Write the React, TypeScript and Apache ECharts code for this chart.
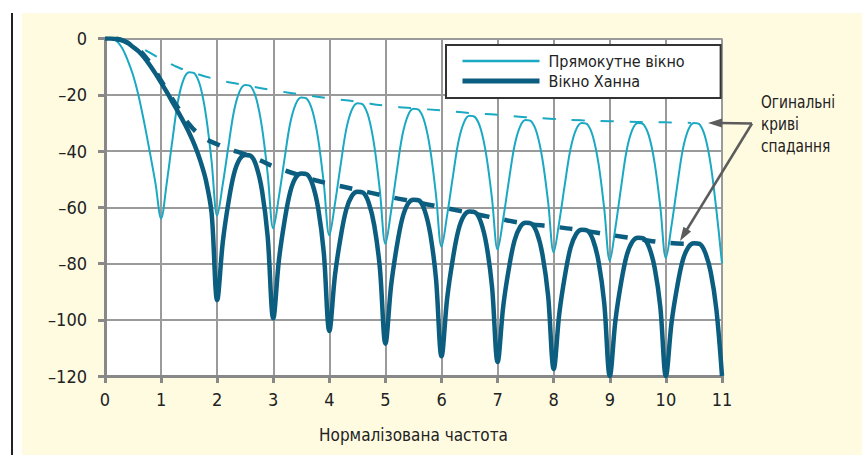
import React, { useEffect, useRef } from "react";
import * as echarts from "echarts";

// Normalised frequency sample points
const freq = [
  0, 0.1, 0.2, 0.3, 0.4, 0.5, 0.6, 0.7, 0.8, 0.9,
  1, 1.1, 1.2, 1.3, 1.4, 1.5, 1.6, 1.7, 1.8, 1.9,
  2, 2.1, 2.2, 2.3, 2.4, 2.5, 2.6, 2.7, 2.8, 2.9,
  3, 3.1, 3.2, 3.3, 3.4, 3.5, 3.6, 3.7, 3.8, 3.9,
  4, 4.1, 4.2, 4.3, 4.4, 4.5, 4.6, 4.7, 4.8, 4.9,
  5, 5.1, 5.2, 5.3, 5.4, 5.5, 5.6, 5.7, 5.8, 5.9,
  6, 6.1, 6.2, 6.3, 6.4, 6.5, 6.6, 6.7, 6.8, 6.9,
  7, 7.1, 7.2, 7.3, 7.4, 7.5, 7.6, 7.7, 7.8, 7.9,
  8, 8.1, 8.2, 8.3, 8.4, 8.5, 8.6, 8.7, 8.8, 8.9,
  9, 9.1, 9.2, 9.3, 9.4, 9.5, 9.6, 9.7, 9.8, 9.9,
  10, 10.1, 10.2, 10.3, 10.4, 10.5, 10.6, 10.7, 10.8, 10.9,
  11,
];

// Прямокутне вікно (dB)
const rectWindow = [
  0, 0, -0.8, -3.2, -7.5, -13, -20.5, -30, -40.5, -51.5,
  -64, -51.5, -36.4, -22.4, -14.6, -12, -12.5, -17.1, -27.3, -43.6,
  -63, -51.8, -38.4, -25.8, -18.8, -16.5, -17, -21.6, -31.8, -48.1,
  -67.5, -56.3, -42.9, -30.3, -23.3, -21, -21.5, -25.9, -35.7, -51.4,
  -70, -58.7, -45.1, -32.4, -25.4, -23, -23.5, -28, -38, -54,
  -73, -61.5, -47.6, -34.6, -27.4, -25, -25.5, -29.9, -39.7, -55.4,
  -74, -62.8, -49.4, -36.8, -29.8, -27.5, -28, -32.3, -41.8, -57,
  -75, -64, -50.6, -38.2, -31.3, -29, -29.5, -33.7, -43.1, -58.1,
  -76, -65, -51.6, -39.2, -32.3, -30, -30.5, -34.9, -44.7, -60.4,
  -79, -67.2, -53, -39.8, -32.5, -30, -30.5, -34.8, -44.4, -59.8,
  -78, -66.5, -52.6, -39.6, -32.4, -30, -30.5, -35, -45, -61,
  -80,
];

// Вікно Ханна (dB)
const hannWindow = [
  0, 0, -0.2, -0.6, -1.5, -3, -4.6, -6.8, -9.5, -12.5,
  -15.7, -19, -22.5, -26, -29.6, -33.5, -38, -43.5, -50.5, -62,
  -93, -72.4, -58.4, -48.1, -42.9, -41.4, -41.7, -45.5, -54.2, -70.4,
  -99.5, -78.9, -65, -54.7, -49.5, -48, -48.3, -51.9, -60.3, -76,
  -104, -84.2, -70.8, -60.9, -56, -54.5, -54.8, -58.3, -66.4, -81.5,
  -108.5, -88, -74.2, -64, -58.8, -57.3, -57.6, -61.2, -69.6, -85.2,
  -113, -92.4, -78.5, -68.2, -63, -61.5, -61.8, -65.2, -73.3, -88.3,
  -115, -95.2, -81.8, -71.9, -67, -65.5, -65.8, -69.1, -76.9, -91.5,
  -117.5, -97.7, -84.3, -74.4, -69.5, -68, -68.3, -71.6, -79.4, -94,
  -120, -100.3, -87, -77.2, -72.3, -70.8, -71.1, -74.2, -81.6, -95.4,
  -120, -101.1, -88.4, -78.9, -74.2, -72.8, -73, -76.1, -83.2, -96.4,
  -120,
];

// Envelope (decay) curves: [frequency, dB]
const rectEnvelope = [
  [0.25, 0], [0.5, -2], [0.75, -4.5], [1.0, -7.3], [1.25, -9.8], [1.5, -11.7],
  [2.0, -14.6], [2.5, -16.6], [3.0, -18.4], [3.5, -19.9], [4.0, -21.3],
  [4.5, -22.5], [5.0, -23.9], [5.5, -24.8], [6.0, -25.6], [6.5, -26.5],
  [7.0, -27.1], [7.5, -28], [8.0, -28.6], [8.5, -29.1], [9.0, -29.4],
  [9.5, -29.7], [10.0, -29.8], [10.45, -30],
];
const hannEnvelope = [
  [0.2, 0], [0.5, -2.6], [0.8, -8.5], [1.0, -15], [1.25, -23], [1.5, -30.5],
  [1.75, -35], [2.0, -37.6], [2.25, -39.5], [2.5, -41.2], [2.75, -43.2],
  [3.0, -45.5], [3.25, -47.2], [3.5, -48.8], [3.75, -50.4], [4.0, -51.6],
  [4.5, -53.8], [5.0, -56], [5.5, -58], [6.0, -60], [6.5, -62], [7.0, -64],
  [7.5, -65.8], [8.0, -66.9], [8.5, -68.2], [9.0, -69.8], [9.5, -71.3],
  [10.0, -72.6], [10.4, -73],
];

const xTicks = { min: 0, max: 11, interval: 1 };
const yTicks = { min: -120, max: 0, interval: 20 };

const seriesNames = ["Прямокутне вікно", "Вікно Ханна"];
const xAxisTitle = "Нормалізована частота";
const annotationLines = ["Огинальні", "криві", "спадання"];
// arrow tips in data coordinates [frequency, dB]
const arrowTips = [
  [10.75, -30],
  [10.25, -72],
];

const RECT_COLOR = "#1AA8C3";
const HANN_COLOR = "#0B5E7F";
const GRID_COLOR = "#9a9a9a";
const AXIS_COLOR = "#888888";
const TEXT_COLOR = "#222222";
const ARROW_COLOR = "#5c5c5c";
const FONT = '"Liberation Sans Narrow", "DejaVu Sans Condensed", "Arial Narrow", sans-serif';

const dash = (v: number) => (v < 0 ? "\u2013" + Math.abs(v) : String(v));

export default function App() {
  const ref = useRef<HTMLDivElement>(null);

  useEffect(() => {
    document.body.style.margin = "0";
    if (!ref.current) return;
    const chart = echarts.init(ref.current, null, { renderer: "svg" });

    const option: any = {
      animation: false,
      textStyle: { fontFamily: FONT },
      grid: {
        left: 105,
        top: 38.5,
        right: 140,
        bottom: 79,
        show: true,
        backgroundColor: "#ffffff",
        borderWidth: 0,
      },
      legend: {
        data: [
          { name: seriesNames[0], lineStyle: { width: 2.5, color: RECT_COLOR } },
          { name: seriesNames[1], lineStyle: { width: 5, color: HANN_COLOR } },
        ],
        orient: "vertical",
        left: 446,
        top: 45,
        padding: [8, 36, 9, 14],
        itemGap: 4,
        itemWidth: 77,
        itemHeight: 16,
        itemStyle: { opacity: 0 },
        backgroundColor: "#ffffff",
        borderColor: "#333333",
        borderWidth: 2,
        borderRadius: 0,
        textStyle: { fontSize: 16, color: TEXT_COLOR, fontFamily: FONT, padding: [0, 0, 0, 4] },
      },
      xAxis: {
        type: "value",
        min: xTicks.min,
        max: xTicks.max,
        interval: xTicks.interval,
        name: xAxisTitle,
        nameLocation: "middle",
        nameGap: 50,
        nameTextStyle: { fontSize: 17, color: TEXT_COLOR, fontFamily: FONT },
        axisLine: { onZero: false, lineStyle: { color: AXIS_COLOR, width: 3 } },
        axisTick: { show: true, length: 7, lineStyle: { color: AXIS_COLOR, width: 3 } },
        axisLabel: { fontSize: 18, color: TEXT_COLOR, margin: 14, fontFamily: FONT },
        splitLine: { show: true, lineStyle: { color: GRID_COLOR, width: 2 } },
      },
      yAxis: {
        type: "value",
        min: yTicks.min,
        max: yTicks.max,
        interval: yTicks.interval,
        axisLine: { show: true, onZero: false, lineStyle: { color: AXIS_COLOR, width: 3 } },
        axisTick: { show: true, length: 7, lineStyle: { color: AXIS_COLOR, width: 3 } },
        axisLabel: {
          fontSize: 18,
          color: TEXT_COLOR,
          margin: 18,
          fontFamily: FONT,
          formatter: (v: number) => dash(v),
        },
        splitLine: { show: true, lineStyle: { color: GRID_COLOR, width: 2 } },
      },
      series: [
        {
          name: seriesNames[0],
          type: "line",
          data: freq.map((f, i) => [f, rectWindow[i]]),
          showSymbol: false,
          symbol: "none",
          smooth: 0.35,
          lineStyle: { color: RECT_COLOR, width: 2 },
          itemStyle: { color: RECT_COLOR },
          z: 3,
        },
        {
          name: "rectEnvelope",
          type: "line",
          data: rectEnvelope,
          symbol: "none",
          smooth: 0.5,
          lineStyle: { color: RECT_COLOR, width: 2, type: [13, 16] },
          z: 3,
        },
        {
          name: seriesNames[1],
          type: "line",
          data: freq.map((f, i) => [f, hannWindow[i]]),
          showSymbol: false,
          symbol: "none",
          smooth: 0.35,
          lineStyle: { color: HANN_COLOR, width: 4.5 },
          itemStyle: { color: HANN_COLOR },
          z: 4,
        },
        {
          name: "hannEnvelope",
          type: "line",
          data: hannEnvelope,
          symbol: "none",
          smooth: 0.5,
          lineStyle: { color: HANN_COLOR, width: 4.5, type: [13, 15] },
          z: 4,
        },
      ],
    };
    chart.setOption(option);

    const origin = [752, 123.5];
    const graphics: any[] = [];
    arrowTips.forEach((tipData) => {
      const tip = chart.convertToPixel({ gridIndex: 0 }, tipData) as number[];
      const dx = tip[0] - origin[0];
      const dy = tip[1] - origin[1];
      const len = Math.sqrt(dx * dx + dy * dy);
      const ux = dx / len;
      const uy = dy / len;
      const headLen = 14;
      const headHalf = 4.5;
      const bx = tip[0] - ux * headLen;
      const by = tip[1] - uy * headLen;
      graphics.push({
        type: "line",
        shape: { x1: origin[0], y1: origin[1], x2: bx + ux * 2, y2: by + uy * 2 },
        style: { stroke: ARROW_COLOR, lineWidth: 2.5 },
        z: 10,
      });
      graphics.push({
        type: "polygon",
        shape: {
          points: [
            [tip[0], tip[1]],
            [bx - uy * headHalf, by + ux * headHalf],
            [bx + uy * headHalf, by - ux * headHalf],
          ],
        },
        style: { fill: ARROW_COLOR },
        z: 10,
      });
    });
    const lineY = [101.7, 123.7, 145.2];
    annotationLines.forEach((t, i) => {
      graphics.push({
        type: "text",
        x: 761,
        y: lineY[i],
        scaleX: 0.85,
        style: {
          text: t,
          fill: TEXT_COLOR,
          font: `18px ${FONT}`,
          align: "left",
          verticalAlign: "middle",
        },
        z: 10,
      });
    });
    chart.setOption({ graphic: graphics });

    return () => chart.dispose();
  }, []);

  return (
    <div style={{ position: "relative", width: 862, height: 455, background: "#ffffff" }}>
      <div style={{ position: "absolute", left: 11, top: 13, width: 2, height: 442, background: "#222" }} />
      <div style={{ position: "absolute", left: 22, top: 13, width: 840, height: 442, background: "#FFFBE1" }} />
      <div ref={ref} style={{ position: "absolute", left: 0, top: 0, width: 862, height: 455 }} />
    </div>
  );
}
